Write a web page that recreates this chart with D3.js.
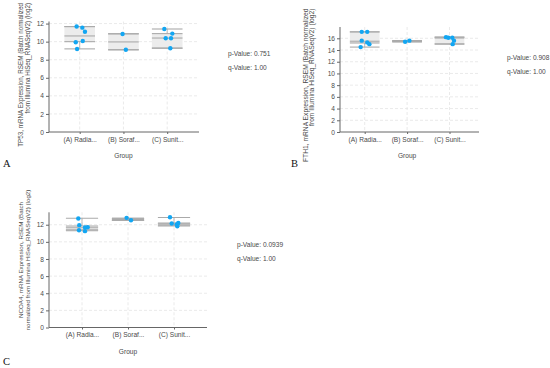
<!DOCTYPE html>
<html><head><meta charset="utf-8">
<script src="https://cdn.jsdelivr.net/npm/d3@7"></script>
<style>html,body{margin:0;padding:0;background:#fff;}svg{display:block;font-family:"Liberation Sans",Arial,sans-serif;}</style>
</head><body>
<script>
// ---- data ----
const groups = ["(A) Radia...", "(B) Soraf...", "(C) Sunit..."];
const yTicks = {A: [0,2,4,6,8,10,12], B: [0,2,4,6,8,10,12,14,16], C: [0,2,4,6,8,10,12]};

const tp53Values = [[11.67, 11.55, 11.1, 9.93, 10.08, 9.19], [10.85, 9.1], [11.4, 10.89, 10.38, 10.38, 9.27]];
const tp53Jitter = [[-0.07, 0.06, 0.12, -0.09, 0.07, -0.06], [-0.02, 0.055], [-0.066, 0.117, -0.034, 0.087, 0.071]];
const tp53Min = [9.2, 9.1, 9.28], tp53Q1 = [10.0, 9.1, 9.28], tp53Med = [10.63, 9.97, 10.4], tp53Q3 = [11.67, 10.87, 10.89], tp53Max = [11.67, 10.87, 11.4];

const fth1Values = [[17.1, 17.1, 15.6, 15.3, 15.0, 14.5], [15.4, 15.6], [16.2, 16.1, 16.1, 15.6, 15.0]];
const fth1Jitter = [[-0.07, 0.06, -0.07, 0.06, 0.11, -0.095], [-0.047, 0.054], [-0.083, -0.028, 0.066, 0.106, 0.075]];
const fth1Min = [14.5, 15.4, 15.0], fth1Q1 = [15.2, 15.4, 15.05], fth1Med = [15.5, 15.5, 16.05], fth1Q3 = [17.1, 15.6, 16.2], fth1Max = [17.1, 15.6, 16.2];

const ncoa4Values = [[12.73, 11.95, 11.68, 11.71, 11.36, 11.25], [12.8, 12.53], [12.88, 12.14, 12.03, 12.2, 11.83]];
const ncoa4Jitter = [[-0.08, -0.06, 0.065, 0.124, -0.065, 0.065], [-0.03, 0.065], [-0.087, -0.05, 0.059, 0.093, 0.072]];
const ncoa4Min = [11.3, 12.5, 11.85], ncoa4Q1 = [11.4, 12.5, 11.95], ncoa4Med = [11.65, 12.62, 12.1], ncoa4Q3 = [11.85, 12.75, 12.2], ncoa4Max = [12.75, 12.75, 12.85];

const pValues = ["0.751", "0.908", "0.0939"];
const qValues = ["1.00", "1.00", "1.00"];
const titles = [
  ["TP53, mRNA Expression, RSEM (Batch normalized", "from Illumina HiSeq_RNASeqV2) (log2)"],
  ["FTH1, mRNA Expression, RSEM (Batch normalized", "from Illumina HiSeq_RNASeqV2) (log2)"],
  ["NCOA4, mRNA Expression, RSEM (Batch", "normalized from Illumina HiSeq_RNASeqV2) (log2)"]
];
const panelLetters = ["A", "B", "C"];

// ---- layout ----
const panels = [
  {letter:0, ticks: yTicks.A, vals: tp53Values, jit: tp53Jitter, st:[tp53Min,tp53Q1,tp53Med,tp53Q3,tp53Max],
   x0:49, x1:199, c0:79.7, c1:167.2, y0:132, yTop:21.5, dMax:12.23, tFs:6.3,
   tx:[23, 29.6], tAnchor:"end", tY:3, pX:228, pY:56, lx:3, ly:167},
  {letter:1, ticks: yTicks.B, vals: fth1Values, jit: fth1Jitter, st:[fth1Min,fth1Q1,fth1Med,fth1Q3,fth1Max],
   x0:340, x1:479, c0:364.7, c1:449.5, y0:132, yTop:27, dMax:17.93, tFs:6.7,
   tx:[307.5, 314.3], tAnchor:"end", tY:8.5, pX:507, pY:60, lx:291, ly:166.5},
  {letter:2, ticks: yTicks.C, vals: ncoa4Values, jit: ncoa4Jitter, st:[ncoa4Min,ncoa4Q1,ncoa4Med,ncoa4Q3,ncoa4Max],
   x0:49, x1:207, c0:82, c1:174, y0:327.5, yTop:212.3, dMax:13.45, tFs:6.2,
   tx:[23, 29.6], tAnchor:"middle", tY:260, pX:237, pY:247, lx:3, ly:365}
];

const svg = d3.select("body").append("svg").attr("width",550).attr("height",368);
const FS = 6.6, textCol = "#4a4a4a", axisCol = "#666", gridCol = "#e4e4e4";

panels.forEach((p, pi) => {
  const g = svg.append("g");
  const x = d3.scalePoint().domain(groups).range([p.c0, p.c1]);
  const step = x.step();
  const y = d3.scaleLinear().domain([0, p.dMax]).range([p.y0, p.yTop]);

  // grid
  g.selectAll(".hg").data(p.ticks.filter(t=>t>0)).join("line")
    .attr("x1", p.x0).attr("x2", p.x1).attr("y1", d=>y(d)).attr("y2", d=>y(d))
    .attr("stroke", gridCol).attr("stroke-width", 0.8).attr("stroke-dasharray", "3,2");
  g.selectAll(".vg").data(groups).join("line")
    .attr("x1", d=>x(d)).attr("x2", d=>x(d)).attr("y1", p.yTop).attr("y2", p.y0)
    .attr("stroke", gridCol).attr("stroke-width", 0.8).attr("stroke-dasharray", "3,2");

  // y axis
  const ya = g.append("g").attr("transform", `translate(${p.x0},0)`)
    .call(d3.axisLeft(y).tickValues(p.ticks).tickSize(3).tickPadding(2).tickSizeOuter(0));
  ya.select(".domain").attr("stroke", axisCol).attr("d", `M0,${p.yTop}V${p.y0}`);
  ya.selectAll(".tick line").attr("stroke", axisCol);
  ya.selectAll(".tick text").attr("fill", textCol).style("font-size", FS+"px").style("font-family", "Liberation Sans, Arial, sans-serif");

  // x axis
  const xa = g.append("g").attr("transform", `translate(0,${p.y0})`)
    .call(d3.axisBottom(x).tickSize(2).tickPadding(3).tickSizeOuter(0));
  xa.select(".domain").attr("stroke", axisCol).attr("d", `M${p.x0},0H${p.x1}`);
  xa.selectAll(".tick line").attr("stroke", axisCol);
  xa.selectAll(".tick text").attr("fill", textCol).style("font-size", FS+"px").style("font-family", "Liberation Sans, Arial, sans-serif");

  // boxes
  const bw = step * 0.7;
  const [mn, q1, md, q3, mx] = p.st;
  groups.forEach((gr, i) => {
    const cx = x(gr);
    g.append("rect").attr("x", cx-bw/2).attr("width", bw)
      .attr("y", y(q3[i])).attr("height", Math.max(0.5, y(q1[i]) - y(q3[i])))
      .attr("fill", "#ececec");
    g.append("line").attr("x1", cx).attr("x2", cx).attr("y1", y(q3[i])).attr("y2", y(mx[i])).attr("stroke", "#aaa").attr("stroke-width", 0.8);
    g.append("line").attr("x1", cx).attr("x2", cx).attr("y1", y(q1[i])).attr("y2", y(mn[i])).attr("stroke", "#aaa").attr("stroke-width", 0.8);
    [mn[i], q1[i], md[i], q3[i], mx[i]].forEach(v => {
      g.append("line").attr("x1", cx-bw/2).attr("x2", cx+bw/2).attr("y1", y(v)).attr("y2", y(v))
        .attr("stroke", "#aaa").attr("stroke-width", 1.1);
    });
  });

  // points
  groups.forEach((gr, i) => {
    g.selectAll(null).data(p.vals[i].map((v,k)=>({v, j:p.jit[i][k]}))).join("circle")
      .attr("cx", d => x(gr) + d.j*step).attr("cy", d => y(d.v)).attr("r", 2.2)
      .attr("fill", "#12a6f2");
  });

  // y title
  const tt = titles[pi];
  tt.forEach((line, li) => {
    g.append("text").attr("transform", `translate(${p.tx[li]},${p.tY}) rotate(-90)`)
      .attr("text-anchor", p.tAnchor).attr("fill", textCol).style("font-size", p.tFs + "px")
      .text(line);
  });

  // x title
  g.append("text").attr("x", x(groups[1])).attr("y", p.y0 + 26).attr("text-anchor", "middle")
    .attr("fill", textCol).style("font-size", FS+"px").text("Group");

  // p/q values
  g.append("text").attr("x", p.pX).attr("y", p.pY).attr("fill", textCol).style("font-size", FS+"px").text("p-Value: " + pValues[pi]);
  g.append("text").attr("x", p.pX).attr("y", p.pY + 14).attr("fill", textCol).style("font-size", FS+"px").text("q-Value: " + qValues[pi]);

  // panel letter
  g.append("text").attr("x", p.lx).attr("y", p.ly).attr("fill", "#111")
    .style("font-family", "Liberation Serif, Times New Roman, serif").style("font-size", "10.5px").text(panelLetters[p.letter]);
});
</script>
</body></html>
